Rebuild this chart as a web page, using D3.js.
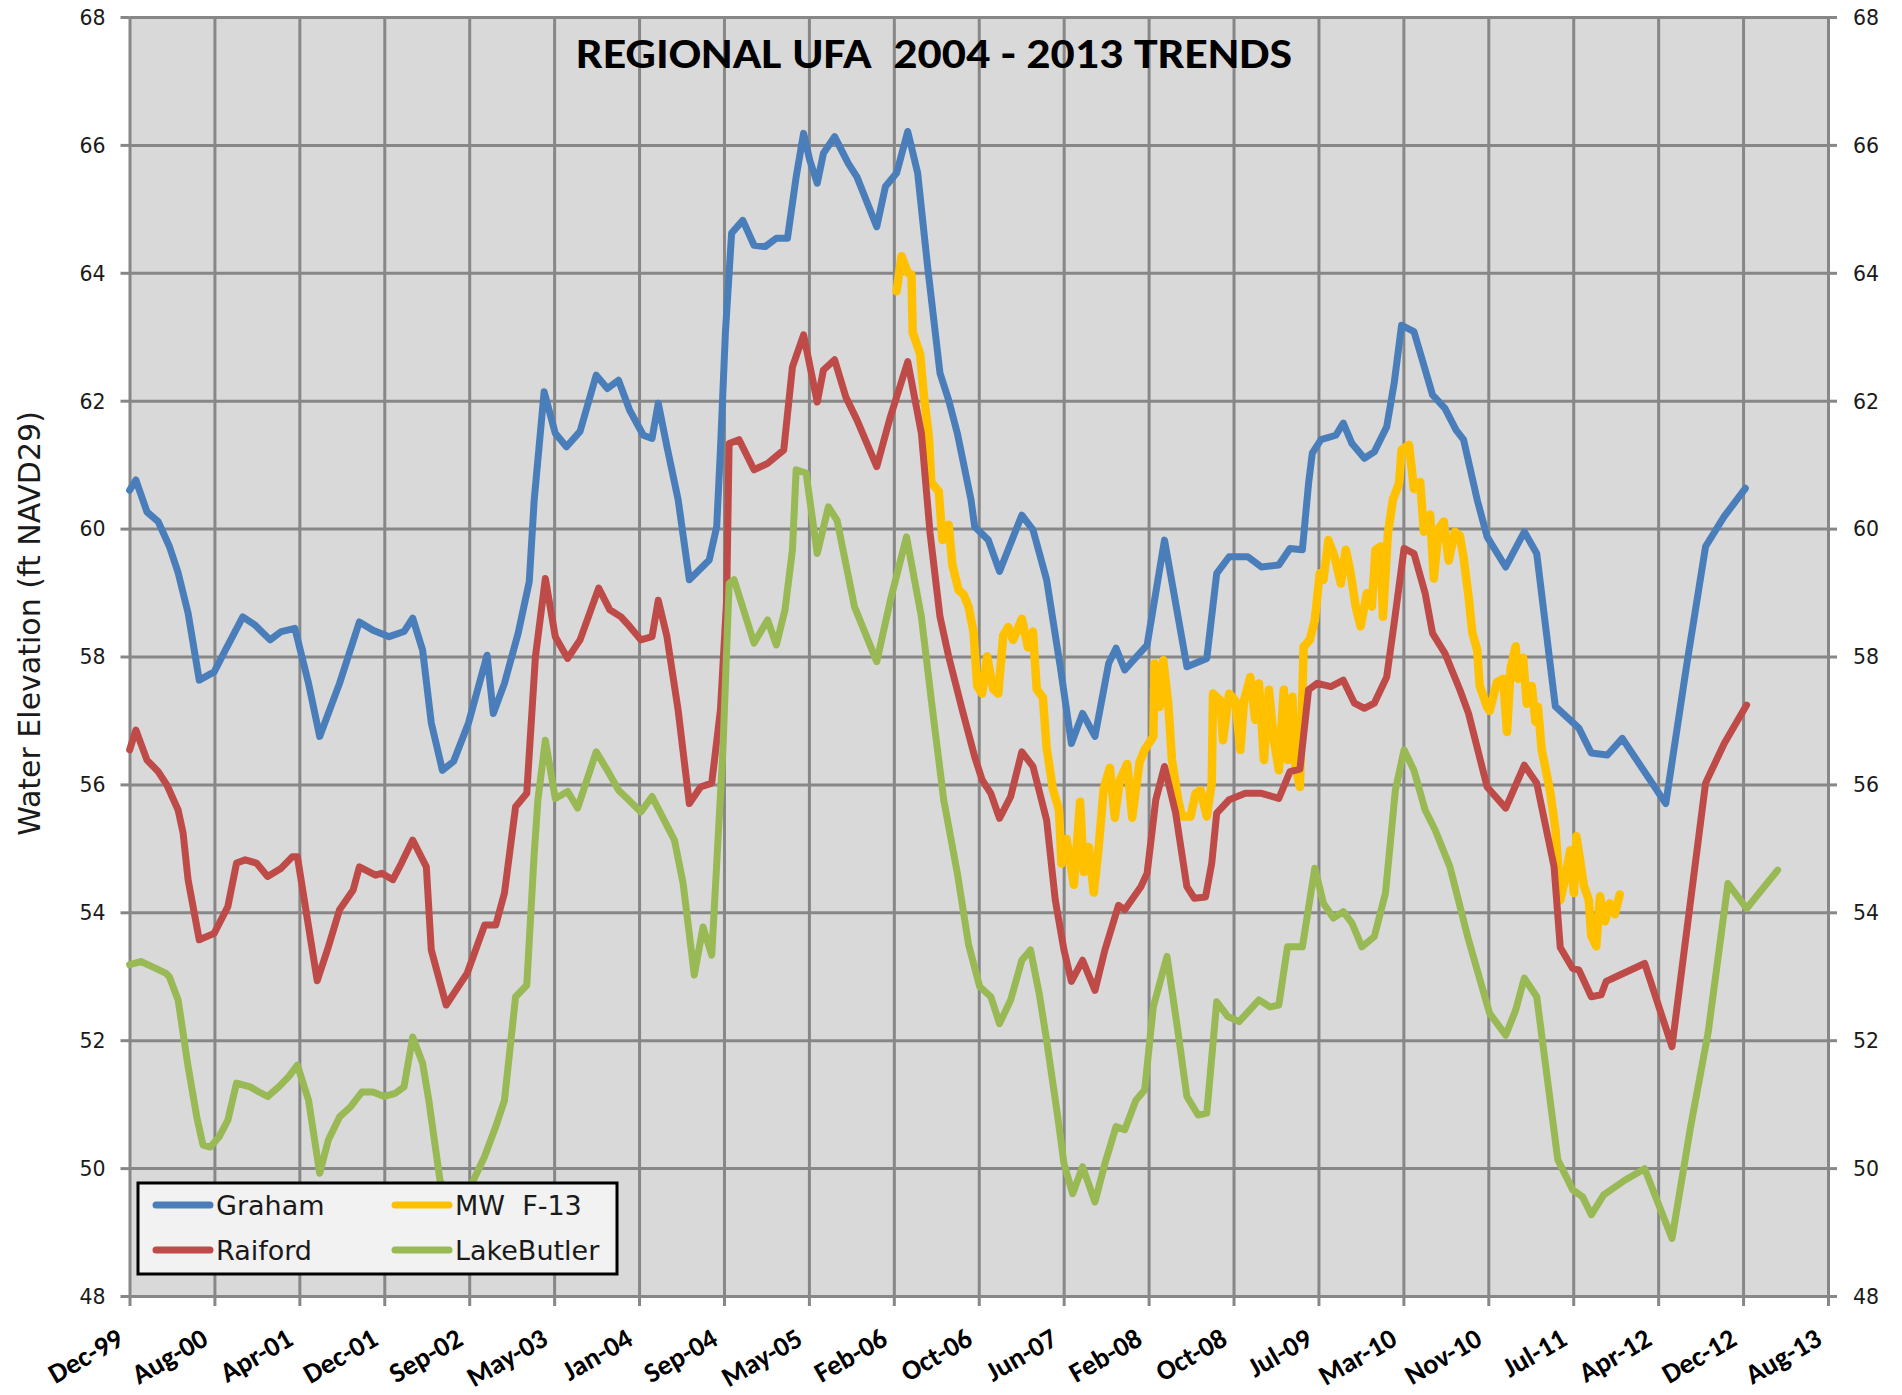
<!DOCTYPE html>
<html>
<head>
<meta charset="utf-8">
<script src="https://cdn.jsdelivr.net/npm/d3@7"></script>
<style>
  body { margin: 0; background: #ffffff; }
  svg { display: block; }
  text { white-space: pre; }
</style>
</head>
<body>
<svg id="chart" width="1902" height="1395"></svg>
<script>
// ---- axis definitions ----
const tickDates = ["1999-12-06","2000-08-12","2001-04-19","2001-12-25","2002-09-01","2003-05-09",
  "2004-01-14","2004-09-20","2005-05-28","2006-02-02","2006-10-10","2007-06-17","2008-02-22",
  "2008-10-29","2009-07-06","2010-03-13","2010-11-18","2011-07-26","2012-04-01","2012-12-07","2013-08-14"];
const tickLabels = ["Dec-99","Aug-00","Apr-01","Dec-01","Sep-02","May-03","Jan-04","Sep-04","May-05",
  "Feb-06","Oct-06","Jun-07","Feb-08","Oct-08","Jul-09","Mar-10","Nov-10","Jul-11","Apr-12","Dec-12","Aug-13"];
const yTicks = [48, 50, 52, 54, 56, 58, 60, 62, 64, 66, 68];

// ---- series: [decimal year, water elevation ft NAVD29] ----
const seriesNames = ["Graham", "MW  F-13", "Raiford", "LakeButler"];

const graham = [
[1999.93,60.60],[1999.98,60.76],[2000.07,60.26],[2000.16,60.11],[2000.25,59.72],[2000.32,59.31],[2000.40,58.68],[2000.49,57.63],[2000.61,57.76],[2000.70,58.10],[2000.84,58.62],[2000.94,58.49],[2001.06,58.26],[2001.15,58.39],[2001.26,58.44],[2001.37,57.58],[2001.46,56.75],[2001.62,57.58],[2001.78,58.54],[2001.89,58.41],[2002.02,58.31],[2002.14,58.39],[2002.21,58.60],[2002.29,58.10],[2002.36,56.96],[2002.45,56.22],[2002.54,56.36],[2002.66,56.96],[2002.81,58.02],[2002.86,57.11],[2002.95,57.58],[2003.06,58.36],[2003.15,59.17],[2003.19,60.45],[2003.27,62.14],[2003.36,61.49],[2003.45,61.28],[2003.56,61.52],[2003.69,62.40],[2003.78,62.19],[2003.87,62.32],[2003.96,61.85],[2004.07,61.46],[2004.14,61.41],[2004.19,61.96],[2004.26,61.28],[2004.35,60.45],[2004.44,59.20],[2004.60,59.51],[2004.66,60.03],[2004.69,61.23],[2004.73,63.06],[2004.78,64.62],[2004.87,64.82],[2004.96,64.43],[2005.05,64.41],[2005.14,64.54],[2005.23,64.54],[2005.30,65.50],[2005.36,66.18],[2005.41,65.76],[2005.47,65.40],[2005.52,65.87],[2005.61,66.13],[2005.72,65.71],[2005.79,65.50],[2005.95,64.72],[2006.02,65.35],[2006.11,65.56],[2006.20,66.21],[2006.28,65.56],[2006.36,64.10],[2006.46,62.43],[2006.53,62.01],[2006.60,61.49],[2006.71,60.45],[2006.74,60.03],[2006.85,59.82],[2006.94,59.33],[2007.12,60.21],[2007.21,59.98],[2007.32,59.20],[2007.43,57.84],[2007.52,56.64],[2007.61,57.11],[2007.71,56.75],[2007.82,57.89],[2007.88,58.13],[2007.95,57.79],[2008.13,58.18],[2008.27,59.82],[2008.45,57.84],[2008.61,57.97],[2008.69,59.30],[2008.79,59.56],[2008.94,59.56],[2009.05,59.40],[2009.19,59.43],[2009.28,59.69],[2009.38,59.67],[2009.43,60.71],[2009.46,61.18],[2009.53,61.39],[2009.65,61.46],[2009.71,61.65],[2009.78,61.33],[2009.88,61.10],[2009.96,61.20],[2010.06,61.59],[2010.12,62.27],[2010.18,63.18],[2010.28,63.08],[2010.43,62.09],[2010.53,61.88],[2010.62,61.54],[2010.68,61.39],[2010.79,60.45],[2010.87,59.87],[2011.02,59.40],[2011.17,59.95],[2011.27,59.61],[2011.42,57.22],[2011.61,56.88],[2011.71,56.49],[2011.84,56.46],[2011.96,56.72],[2012.31,55.70],[2012.48,57.89],[2012.63,59.72],[2012.78,60.19],[2012.95,60.63]
];

const mwF13 = [
[2006.11,63.71],[2006.15,64.26],[2006.20,64.00],[2006.23,63.97],[2006.24,63.07],[2006.30,62.73],[2006.33,62.08],[2006.37,61.44],[2006.39,60.72],[2006.45,60.58],[2006.48,59.82],[2006.53,60.06],[2006.56,59.43],[2006.61,59.04],[2006.65,58.97],[2006.69,58.78],[2006.73,58.39],[2006.76,57.54],[2006.80,57.42],[2006.84,58.00],[2006.89,57.49],[2006.93,57.42],[2006.97,58.33],[2007.01,58.46],[2007.05,58.26],[2007.12,58.59],[2007.17,58.14],[2007.21,58.39],[2007.24,57.49],[2007.29,57.36],[2007.32,56.57],[2007.37,55.93],[2007.42,55.60],[2007.44,54.76],[2007.48,55.15],[2007.54,54.43],[2007.59,55.73],[2007.62,54.63],[2007.66,55.02],[2007.70,54.31],[2007.74,55.02],[2007.78,55.93],[2007.83,56.26],[2007.87,55.48],[2007.91,56.06],[2007.97,56.32],[2008.01,55.48],[2008.07,56.35],[2008.11,56.54],[2008.18,56.75],[2008.19,57.89],[2008.23,57.21],[2008.26,57.94],[2008.30,57.27],[2008.33,56.38],[2008.38,55.76],[2008.41,55.50],[2008.48,55.50],[2008.52,55.86],[2008.56,55.91],[2008.61,55.50],[2008.65,56.02],[2008.66,57.42],[2008.72,57.31],[2008.74,56.69],[2008.79,57.42],[2008.84,57.31],[2008.88,56.54],[2008.91,57.31],[2008.96,57.68],[2009.00,57.01],[2009.03,57.58],[2009.07,56.38],[2009.11,57.48],[2009.15,56.69],[2009.19,56.22],[2009.23,57.48],[2009.26,56.38],[2009.30,57.37],[2009.32,56.33],[2009.36,55.96],[2009.39,58.15],[2009.44,58.26],[2009.48,58.57],[2009.52,59.30],[2009.55,59.20],[2009.59,59.82],[2009.64,59.56],[2009.69,59.14],[2009.73,59.67],[2009.77,59.30],[2009.81,58.78],[2009.85,58.47],[2009.90,58.99],[2009.94,58.78],[2009.97,59.67],[2010.01,59.72],[2010.03,58.62],[2010.07,59.93],[2010.11,60.45],[2010.16,60.71],[2010.18,61.23],[2010.24,61.31],[2010.28,60.62],[2010.33,60.73],[2010.36,59.95],[2010.41,60.22],[2010.44,59.22],[2010.48,60.00],[2010.52,60.11],[2010.56,59.50],[2010.61,59.95],[2010.65,59.89],[2010.68,59.55],[2010.72,58.94],[2010.75,58.38],[2010.79,58.10],[2010.81,57.54],[2010.87,57.21],[2010.89,57.15],[2010.95,57.60],[2011.00,57.65],[2011.03,56.82],[2011.06,57.82],[2011.10,58.16],[2011.12,57.65],[2011.16,57.98],[2011.19,57.26],[2011.23,57.54],[2011.26,56.98],[2011.28,57.21],[2011.31,56.54],[2011.34,56.26],[2011.38,55.87],[2011.42,55.31],[2011.44,54.81],[2011.46,54.19],[2011.50,54.53],[2011.54,54.97],[2011.57,54.30],[2011.59,55.19],[2011.62,54.81],[2011.65,54.42],[2011.69,54.19],[2011.71,53.63],[2011.75,53.47],[2011.78,54.25],[2011.82,53.86],[2011.86,54.14],[2011.90,53.97],[2011.94,54.28]
];

const raiford = [
[1999.93,56.54],[1999.98,56.85],[2000.07,56.38],[2000.16,56.20],[2000.23,55.99],[2000.32,55.60],[2000.36,55.24],[2000.40,54.51],[2000.49,53.57],[2000.61,53.67],[2000.72,54.09],[2000.79,54.77],[2000.86,54.82],[2000.95,54.77],[2001.04,54.56],[2001.15,54.69],[2001.24,54.87],[2001.28,54.87],[2001.44,52.93],[2001.53,53.46],[2001.62,54.04],[2001.73,54.35],[2001.78,54.71],[2001.91,54.58],[2001.96,54.61],[2002.05,54.51],[2002.12,54.77],[2002.21,55.13],[2002.32,54.71],[2002.36,53.41],[2002.48,52.55],[2002.65,53.05],[2002.79,53.80],[2002.88,53.80],[2002.95,54.30],[2003.04,55.65],[2003.13,55.86],[2003.20,58.00],[2003.28,59.22],[2003.36,58.31],[2003.46,57.97],[2003.56,58.26],[2003.71,59.07],[2003.80,58.73],[2003.89,58.62],[2003.96,58.47],[2004.05,58.26],[2004.14,58.31],[2004.19,58.88],[2004.26,58.31],[2004.35,57.16],[2004.44,55.70],[2004.53,55.96],[2004.62,56.02],[2004.69,57.16],[2004.74,58.88],[2004.76,61.33],[2004.84,61.39],[2004.96,60.92],[2005.07,61.02],[2005.20,61.23],[2005.27,62.53],[2005.36,63.03],[2005.47,61.98],[2005.52,62.48],[2005.61,62.64],[2005.70,62.06],[2005.79,61.70],[2005.95,60.97],[2006.06,61.75],[2006.20,62.61],[2006.31,61.49],[2006.38,59.93],[2006.46,58.62],[2006.53,58.00],[2006.64,57.16],[2006.74,56.43],[2006.80,56.07],[2006.87,55.86],[2006.94,55.47],[2007.03,55.81],[2007.12,56.51],[2007.21,56.28],[2007.32,55.44],[2007.39,54.19],[2007.46,53.41],[2007.52,52.92],[2007.61,53.25],[2007.71,52.78],[2007.79,53.41],[2007.90,54.11],[2007.95,54.04],[2008.08,54.40],[2008.13,54.61],[2008.20,55.76],[2008.27,56.28],[2008.36,55.55],[2008.45,54.40],[2008.51,54.22],[2008.60,54.24],[2008.65,54.77],[2008.69,55.55],[2008.79,55.76],[2008.92,55.86],[2009.05,55.86],[2009.19,55.78],[2009.28,56.20],[2009.36,56.24],[2009.43,57.48],[2009.50,57.58],[2009.61,57.53],[2009.71,57.63],[2009.80,57.27],[2009.88,57.19],[2009.96,57.27],[2010.06,57.68],[2010.12,58.52],[2010.20,59.69],[2010.28,59.61],[2010.37,58.99],[2010.43,58.36],[2010.53,58.05],[2010.65,57.48],[2010.72,57.11],[2010.87,55.96],[2011.02,55.63],[2011.17,56.30],[2011.27,56.02],[2011.41,54.71],[2011.46,53.45],[2011.56,53.12],[2011.61,53.10],[2011.71,52.68],[2011.79,52.71],[2011.83,52.92],[2011.94,53.02],[2012.14,53.20],[2012.36,51.90],[2012.63,56.02],[2012.78,56.64],[2012.96,57.24]
];

const lakeButler = [
[1999.93,53.18],[2000.02,53.23],[2000.11,53.15],[2000.22,53.05],[2000.25,52.99],[2000.32,52.63],[2000.40,51.59],[2000.47,50.80],[2000.52,50.36],[2000.58,50.33],[2000.65,50.49],[2000.72,50.75],[2000.79,51.33],[2000.90,51.27],[2000.97,51.19],[2001.04,51.12],[2001.13,51.27],[2001.21,51.43],[2001.28,51.61],[2001.37,51.06],[2001.46,49.92],[2001.53,50.44],[2001.62,50.80],[2001.71,50.96],[2001.80,51.19],[2001.89,51.19],[2001.98,51.12],[2002.07,51.17],[2002.14,51.27],[2002.21,52.05],[2002.29,51.64],[2002.34,51.06],[2002.43,49.81],[2002.56,49.25],[2002.70,49.81],[2002.79,50.18],[2002.88,50.65],[2002.95,51.06],[2003.04,52.68],[2003.13,52.86],[2003.19,54.92],[2003.22,55.76],[2003.28,56.69],[2003.36,55.78],[2003.46,55.89],[2003.54,55.63],[2003.69,56.51],[2003.78,56.22],[2003.87,55.91],[2003.94,55.78],[2004.05,55.57],[2004.14,55.81],[2004.32,55.13],[2004.39,54.45],[2004.48,53.02],[2004.55,53.77],[2004.62,53.33],[2004.71,56.54],[2004.76,59.14],[2004.80,59.20],[2004.96,58.21],[2005.07,58.57],[2005.14,58.18],[2005.21,58.73],[2005.27,59.67],[2005.30,60.92],[2005.38,60.87],[2005.47,59.61],[2005.56,60.34],[2005.63,60.13],[2005.77,58.78],[2005.95,57.92],[2006.06,58.88],[2006.19,59.87],[2006.31,58.62],[2006.40,57.16],[2006.49,55.76],[2006.60,54.61],[2006.69,53.50],[2006.78,52.84],[2006.87,52.68],[2006.94,52.26],[2007.03,52.63],[2007.12,53.25],[2007.19,53.41],[2007.26,52.73],[2007.32,52.00],[2007.41,50.80],[2007.46,50.07],[2007.53,49.60],[2007.61,50.02],[2007.71,49.47],[2007.79,50.07],[2007.88,50.65],[2007.95,50.60],[2008.04,51.06],[2008.11,51.22],[2008.18,52.52],[2008.29,53.31],[2008.38,52.11],[2008.45,51.12],[2008.54,50.83],[2008.61,50.86],[2008.69,52.60],[2008.78,52.37],[2008.87,52.29],[2009.03,52.63],[2009.12,52.52],[2009.19,52.55],[2009.26,53.46],[2009.38,53.46],[2009.48,54.69],[2009.55,54.14],[2009.63,53.91],[2009.71,54.01],[2009.78,53.83],[2009.86,53.46],[2009.96,53.62],[2010.05,54.30],[2010.13,55.91],[2010.20,56.54],[2010.28,56.22],[2010.37,55.60],[2010.45,55.29],[2010.57,54.71],[2010.72,53.57],[2010.89,52.42],[2011.02,52.08],[2011.10,52.47],[2011.17,52.97],[2011.27,52.68],[2011.44,50.13],[2011.56,49.66],[2011.64,49.55],[2011.71,49.27],[2011.81,49.58],[2011.98,49.81],[2012.14,49.99],[2012.36,48.90],[2012.51,50.65],[2012.65,52.11],[2012.81,54.45],[2012.96,54.06],[2013.21,54.66]
];

// ---- drawing ----
const series = [
  { name: seriesNames[0], values: graham,     color: "#4a7ebb", width: 7 },
  { name: seriesNames[1], values: mwF13,      color: "#ffc000", width: 8.5 },
  { name: seriesNames[2], values: raiford,    color: "#be4b48", width: 7 },
  { name: seriesNames[3], values: lakeButler, color: "#98b954", width: 7 }
];

const parseDay = d3.utcParse("%Y-%m-%d");
function fromDecimalYear(t) {
  const yr = Math.floor(t);
  const a = Date.UTC(yr, 0, 1), b = Date.UTC(yr + 1, 0, 1);
  return new Date(a + (t - yr) * (b - a));
}

const svg = d3.select("#chart");
const plot = { left: 129.5, right: 1828, top: 17, bottom: 1296 };
const gridColor = "#878787";
const tickTimes = tickDates.map(parseDay);

const x = d3.scaleUtc()
  .domain([tickTimes[0], tickTimes[tickTimes.length - 1]])
  .range([plot.left, plot.right]);
const y = d3.scaleLinear()
  .domain([yTicks[0], yTicks[yTicks.length - 1]])
  .range([plot.bottom, plot.top]);

svg.append("rect").attr("width", 1902).attr("height", 1395).attr("fill", "#ffffff");
svg.append("rect")
  .attr("x", plot.left).attr("y", plot.top)
  .attr("width", plot.right - plot.left).attr("height", plot.bottom - plot.top)
  .attr("fill", "#d9d9d9");

// gridlines
const gridY = svg.append("g")
  .attr("transform", `translate(${plot.left},0)`)
  .call(d3.axisRight(y).tickValues(yTicks).tickSize(plot.right - plot.left).tickFormat(""));
const gridX = svg.append("g")
  .attr("transform", `translate(0,${plot.top})`)
  .call(d3.axisBottom(x).tickValues(tickTimes).tickSize(plot.bottom - plot.top).tickFormat(""));
[gridY, gridX].forEach(g => {
  g.select(".domain").remove();
  g.selectAll(".tick line").attr("stroke", gridColor).attr("stroke-width", 3);
});

// axes with outward tick marks and labels
function styleAxis(g) {
  g.select(".domain").remove();
  g.selectAll(".tick line").attr("stroke", gridColor).attr("stroke-width", 3);
}
const axisLeft = svg.append("g")
  .attr("transform", `translate(${plot.left},0)`)
  .call(d3.axisLeft(y).tickValues(yTicks).tickSize(9).tickPadding(15).tickFormat(d3.format("d")));
const axisRight = svg.append("g")
  .attr("transform", `translate(${plot.right},0)`)
  .call(d3.axisRight(y).tickValues(yTicks).tickSize(9).tickPadding(16).tickFormat(d3.format("d")));
[axisLeft, axisRight].forEach(g => {
  styleAxis(g);
  g.attr("font-family", "'DejaVu Sans', Verdana, sans-serif").attr("font-size", 20.5);
  g.selectAll(".tick text").attr("fill", "#1a1a1a").attr("dy", "0.36em");
});

const axisBottom = svg.append("g")
  .attr("transform", `translate(0,${plot.bottom})`)
  .call(d3.axisBottom(x).tickValues(tickTimes).tickSize(10).tickFormat((d, i) => tickLabels[i]));
styleAxis(axisBottom);
axisBottom.attr("font-family", "Carlito, Lato, 'Open Sans', sans-serif").attr("font-size", 28);
axisBottom.selectAll(".tick text")
  .attr("fill", "#000")
  .attr("font-weight", "bold")
  .attr("text-anchor", "end")
  .attr("x", 0).attr("y", 0).attr("dy", 0)
  .attr("transform", "translate(-5,48) rotate(-30)");

// series lines
const line = d3.line()
  .x(d => x(fromDecimalYear(d[0])))
  .y(d => y(d[1]));

svg.append("g").selectAll("path").data(series).join("path")
  .attr("d", d => line(d.values))
  .attr("fill", "none")
  .attr("stroke", d => d.color)
  .attr("stroke-width", d => d.width)
  .attr("stroke-linejoin", "round")
  .attr("stroke-linecap", "round");

// title
svg.append("text")
  .attr("x", 576).attr("y", 68)
  .attr("textLength", 716).attr("lengthAdjust", "spacingAndGlyphs")
  .attr("font-family", "Carlito, Lato, 'Open Sans', sans-serif")
  .attr("font-weight", "bold").attr("font-size", 42).attr("fill", "#000")
  .text("REGIONAL UFA  2004 - 2013 TRENDS");

// y-axis title
svg.append("text")
  .attr("transform", `translate(40,${(plot.top + plot.bottom) / 2 - 33}) rotate(-90)`)
  .attr("text-anchor", "middle")
  .attr("font-family", "'DejaVu Sans', Verdana, sans-serif")
  .attr("font-size", 30).attr("fill", "#1a1a1a")
  .text("Water Elevation (ft NAVD29)");

// legend (two columns, filled row-wise)
const legend = svg.append("g").attr("transform", "translate(138,1183)");
legend.append("rect")
  .attr("width", 479).attr("height", 91)
  .attr("fill", "#f2f2f2").attr("stroke", "#000").attr("stroke-width", 3);
const items = legend.selectAll("g.item").data(series).join("g")
  .attr("class", "item")
  .attr("transform", (d, i) => `translate(${i % 2 === 0 ? 18 : 257},${i < 2 ? 22 : 67})`);
items.append("line")
  .attr("x1", 0).attr("x2", 54).attr("y1", 0).attr("y2", 0)
  .attr("stroke", d => d.color).attr("stroke-width", 7).attr("stroke-linecap", "round");
items.append("text")
  .attr("x", 60).attr("y", 10)
  .attr("font-family", "'DejaVu Sans', Verdana, sans-serif")
  .attr("font-size", 27).attr("fill", "#1a1a1a")
  .text(d => d.name);
</script>
</body>
</html>
